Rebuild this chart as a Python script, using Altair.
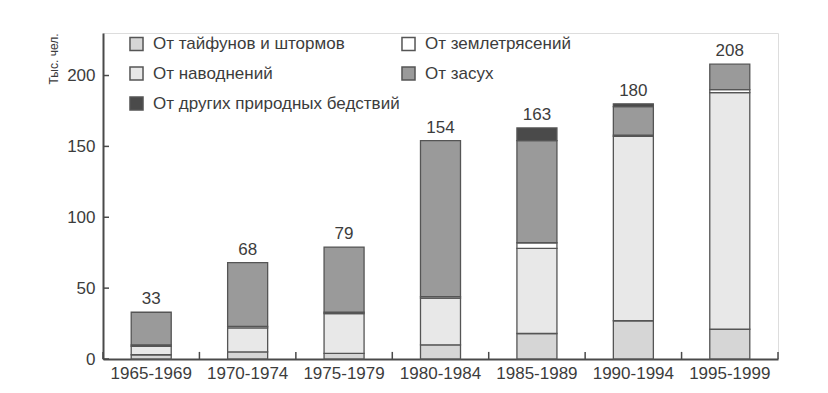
import altair as alt
import pandas as pd

periods = ["1965-1969", "1970-1974", "1975-1979", "1980-1984", "1985-1989", "1990-1994", "1995-1999"]
typhoons = [3, 5, 4, 10, 18, 27, 21]
floods = [6, 17, 28, 33, 60, 130, 167]
earthquakes = [1, 1, 1, 1, 4, 1, 2]
droughts = [23, 45, 46, 110, 72, 20, 18]
other = [0, 0, 0, 0, 9, 2, 0]
totals = [33, 68, 79, 154, 163, 180, 208]

names = ["От тайфунов и штормов", "От наводнений", "От землетрясений", "От засух", "От других природных бедствий"]
series = [typhoons, floods, earthquakes, droughts, other]
# legend is filled column by column: left column, then right column
legend_order = ["От тайфунов и штормов", "От наводнений", "От других природных бедствий", "От землетрясений", "От засух"]
fills = {"От тайфунов и штормов": "#d6d6d6", "От землетрясений": "#ffffff", "От наводнений": "#e8e8e8",
         "От засух": "#9a9a9a", "От других природных бедствий": "#4a4a4a"}
y_ticks = [0, 50, 100, 150, 200]

rows = []
for k, (nm, vals) in enumerate(zip(names, series)):
    for p, v in zip(periods, vals):
        if v > 0:
            rows.append({"period": p, "cause": nm, "value": v, "ord": k})
df = pd.DataFrame(rows)
tot_df = pd.DataFrame({"period": periods, "value": totals})
tick_df = pd.DataFrame({"value": y_ticks})
per_df = pd.DataFrame({"period": periods})
last_df = pd.DataFrame({"period": periods[-1:]})

FONT = "Liberation Sans"
AX = "#4a4a4a"
TXT = "#3c3c3c"
YTITLE = "Тыс. чел."

xsc = alt.Scale(domain=periods, paddingInner=0, paddingOuter=0)
ysc = alt.Scale(domain=[0, 230], nice=False)
xax = alt.Axis(labelAngle=0, ticks=False, labelPadding=6)
yax = alt.Axis(values=y_ticks, ticks=False, grid=False, labelPadding=8, titleAnchor="end", titlePadding=6)


def X(**kw):
    return alt.X("period:N", scale=xsc, sort=periods, title=None, axis=xax, **kw)


def Y(field="value:Q", **kw):
    return alt.Y(field, scale=ysc, title=YTITLE, axis=yax, **kw)


bars = alt.Chart(df).mark_bar(width=alt.RelativeBandSize(0.415), stroke="#555555", strokeWidth=1.3).encode(
    x=X(),
    y=Y(stack="zero"),
    color=alt.Color("cause:N", scale=alt.Scale(domain=legend_order, range=[fills[n] for n in legend_order]),
                    legend=alt.Legend(title=None, orient="none", legendX=25, legendY=2, columns=2,
                                      columnPadding=-10, rowPadding=9, symbolType="square", symbolSize=170,
                                      symbolStrokeColor="#555555", symbolStrokeWidth=1.5, symbolOpacity=1,
                                      labelFont=FONT, labelFontSize=17, labelColor=TXT, labelOffset=8,
                                      padding=0, labelLimit=400)),
    order=alt.Order("ord:Q", sort="ascending"),
)

labels = alt.Chart(tot_df).mark_text(dy=-4, fontSize=17, font=FONT, color=TXT, baseline="bottom").encode(
    x=X(),
    y=Y(),
    text=alt.Text("value:Q"),
)

yt = alt.Chart(tick_df).mark_rule(color=AX, strokeWidth=1.5).encode(
    y=Y(),
    x=alt.value(0), x2=alt.value(6),
)

xt = alt.Chart(per_df).mark_rule(color=AX, strokeWidth=1.5).encode(
    x=X(bandPosition=0),
    y=alt.datum(0), y2=alt.datum(5),
)
xt_last = alt.Chart(last_df).mark_rule(color=AX, strokeWidth=1.5).encode(
    x=X(bandPosition=1),
    y=alt.datum(0), y2=alt.datum(5),
)

chart = alt.layer(bars, labels, yt, xt, xt_last).properties(
    width=675, height=326,
    autosize=alt.AutoSizeParams(type="none"),
    padding={"left": 95, "top": 25, "right": 40, "bottom": 26},
).configure_view(stroke=None).configure(background="white").configure_axis(
    labelFont=FONT, labelFontSize=17, labelColor=TXT, domainColor=AX, domainWidth=2,
    titleFont=FONT, titleFontSize=12, titleFontWeight="normal", titleColor=TXT,
)

chart.save("out.html", embed_options={"renderer": "svg", "actions": False})
